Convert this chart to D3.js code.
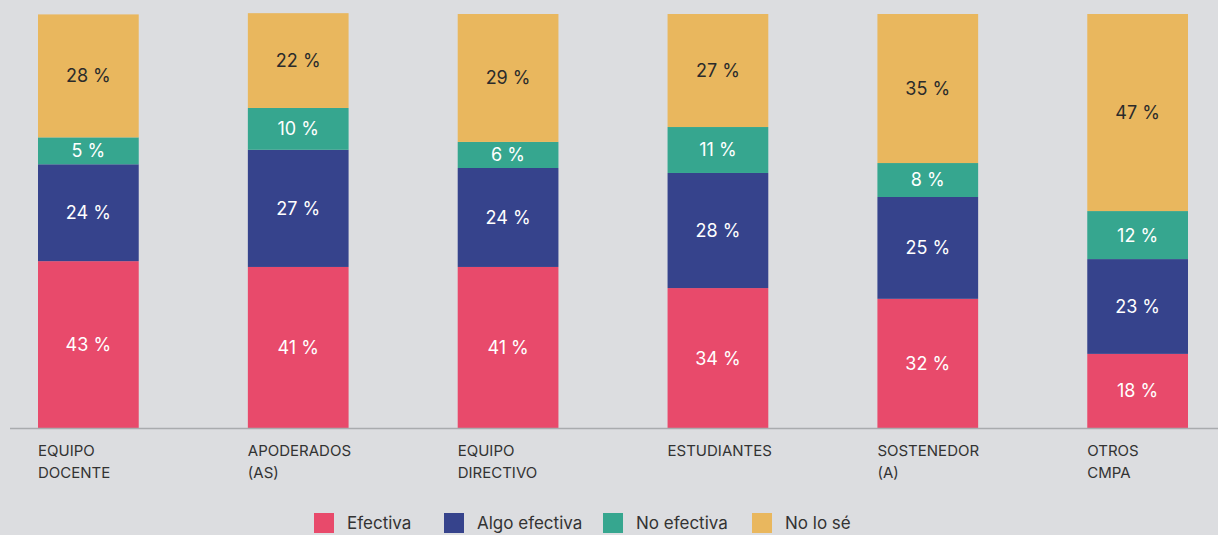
<!DOCTYPE html>
<html>
<head>
<meta charset="utf-8">
<script src="https://cdn.jsdelivr.net/npm/d3@7"></script>
<style>
  html, body { margin: 0; padding: 0; background: #dcdde0; }
  svg { display: block; font-family: Inter, "Noto Sans", sans-serif; }
</style>
</head>
<body>
<div id="chart"></div>
<script>
// categories (two lines each)
var categories = [
  ["EQUIPO", "DOCENTE"],
  ["APODERADOS", "(AS)"],
  ["EQUIPO", "DIRECTIVO"],
  ["ESTUDIANTES"],
  ["SOSTENEDOR", "(A)"],
  ["OTROS", "CMPA"]
];

var seriesNames = ["Efectiva", "Algo efectiva", "No efectiva", "No lo sé"];
var seriesColors = ["#e84a6b", "#36438c", "#36a68f", "#e9b75e"];

// segment sizes as drawn (share of bar height)
var efectiva     = [40.3, 38.9, 38.9, 33.8, 31.2, 17.9];
var algoEfectiva = [23.4, 28.3, 23.9, 27.8, 24.6, 22.9];
var noEfectiva   = [6.5, 10.1, 6.3, 11.1, 8.2, 11.6];
var noLoSe       = [29.7, 22.9, 30.9, 27.3, 36.0, 47.6];

// printed percentages
var efectivaLbl     = [43, 41, 41, 34, 32, 18];
var algoEfectivaLbl = [24, 27, 24, 28, 25, 23];
var noEfectivaLbl   = [5, 10, 6, 11, 8, 12];
var noLoSeLbl       = [28, 22, 29, 27, 35, 47];

var width = 1218, height = 535;

var svg = d3.select("#chart")
  .append("svg")
  .attr("width", width)
  .attr("height", height);

var series = [efectiva, algoEfectiva, noEfectiva, noLoSe];
var labels = [efectivaLbl, algoEfectivaLbl, noEfectivaLbl, noLoSeLbl];

var rows = categories.map(function(c, i) {
  var r = { i: i };
  series.forEach(function(s, k) { r[k] = s[i]; });
  return r;
});

var stack = d3.stack().keys([0, 1, 2, 3]);
var stacked = stack(rows);

var x = d3.scaleBand()
  .domain(d3.range(categories.length))
  .range([38, 1188])
  .paddingInner(0.52)
  .paddingOuter(0);

var y = d3.scaleLinear()
  .domain([0, 100])
  .range([428, 14]);

var layer = svg.selectAll(".layer")
  .data(stacked)
  .enter().append("g")
    .attr("class", "layer")
    .attr("fill", function(d, k) { return seriesColors[k]; });

layer.selectAll("rect")
  .data(function(d) { return d; })
  .enter().append("rect")
    .attr("x", function(d, i) { return x(i); })
    .attr("y", function(d) { return y(d[1]); })
    .attr("width", x.bandwidth())
    .attr("height", function(d) { return y(d[0]) - y(d[1]); });

layer.selectAll("text")
  .data(function(d) { return d.map(function(p) { return { p: p, k: d.key }; }); })
  .enter().append("text")
    .attr("x", function(d, i) { return x(i) + x.bandwidth() / 2; })
    .attr("y", function(d) { return (y(d.p[0]) + y(d.p[1])) / 2; })
    .attr("dy", "0.36em")
    .attr("text-anchor", "middle")
    .attr("font-size", 18)
    .attr("fill", function(d) { return d.k === 3 ? "#2b2b2b" : "#ffffff"; })
    .text(function(d, i) { return labels[d.k][i] + " %"; });

// axis baseline
svg.append("line")
  .attr("x1", 10).attr("x2", width)
  .attr("y1", y(0) + 0.5).attr("y2", y(0) + 0.5)
  .attr("stroke", "#a9abae")
  .attr("stroke-width", 1.5);

// category labels
var cat = svg.selectAll(".cat")
  .data(categories)
  .enter().append("text")
    .attr("class", "cat")
    .attr("x", function(d, i) { return x(i); })
    .attr("y", 456)
    .attr("font-size", 15)
    .attr("fill", "#333333");

cat.selectAll("tspan")
  .data(function(d) { return d; })
  .enter().append("tspan")
    .attr("x", function() { return d3.select(this.parentNode).attr("x"); })
    .attr("dy", function(d, j) { return j === 0 ? 0 : 22; })
    .text(function(d) { return d; });

// legend
var legendX = [314, 444, 603, 752];
var legend = svg.selectAll(".legend")
  .data(seriesNames)
  .enter().append("g")
    .attr("class", "legend")
    .attr("transform", function(d, k) { return "translate(" + legendX[k] + ",513)"; });

legend.append("rect")
  .attr("width", 20)
  .attr("height", 20)
  .attr("fill", function(d, k) { return seriesColors[k]; });

legend.append("text")
  .attr("x", 33)
  .attr("y", 16)
  .attr("font-size", 17)
  .attr("fill", "#333333")
  .text(function(d) { return d; });
</script>
</body>
</html>
